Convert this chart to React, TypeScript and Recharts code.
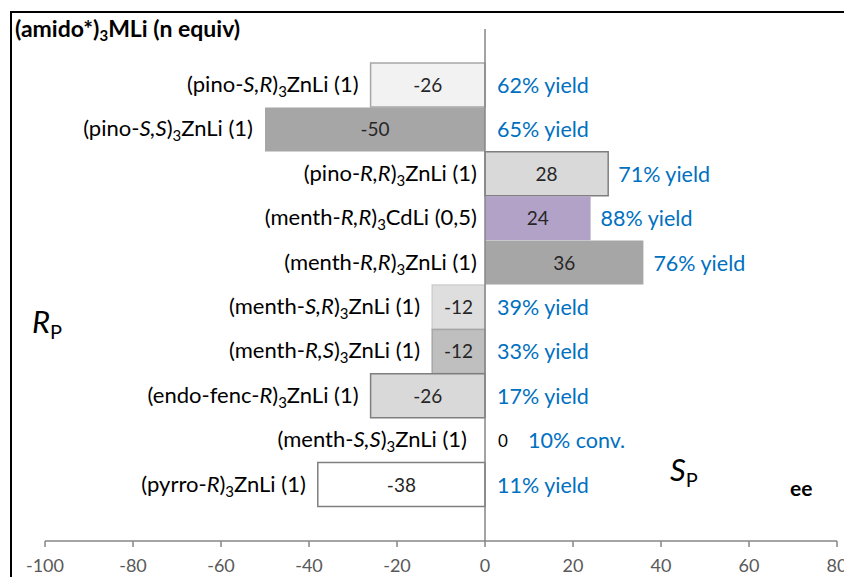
import React from "react";
import { BarChart, Bar, XAxis, YAxis, Cell, LabelList, ReferenceLine } from "recharts";

const categories = [
  "(pino-S,R)3ZnLi (1)",
  "(pino-S,S)3ZnLi (1)",
  "(pino-R,R)3ZnLi (1)",
  "(menth-R,R)3CdLi (0,5)",
  "(menth-R,R)3ZnLi (1)",
  "(menth-S,R)3ZnLi (1)",
  "(menth-R,S)3ZnLi (1)",
  "(endo-fenc-R)3ZnLi (1)",
  "(menth-S,S)3ZnLi (1)",
  "(pyrro-R)3ZnLi (1)",
];
const eeValues = [-26, -50, 28, 24, 36, -12, -12, -26, 0, -38];
const outcomes = [
  "62% yield",
  "65% yield",
  "71% yield",
  "88% yield",
  "76% yield",
  "39% yield",
  "33% yield",
  "17% yield",
  "10% conv.",
  "11% yield",
];
const xTicks = [-100, -80, -60, -40, -20, 0, 20, 40, 60, 80];

const barFills = ["#f2f2f2", "#a6a6a6", "#d9d9d9", "#b3a2c7", "#a6a6a6", "#dedede", "#bfbfbf", "#d9d9d9", "#ffffff", "#ffffff"];
const barStrokes = ["#a6a6a6", "none", "#7f7f7f", "none", "none", "#cfcfcf", "#a6a6a6", "#7f7f7f", "none", "#7f7f7f"];

const FONT = "Lato, 'Open Sans', sans-serif";
const BLUE = "#0070c0";

const data = categories.map((name, i) => ({ name, ee: eeValues[i], outcome: outcomes[i] }));

function splitName(name: string) {
  const m = name.match(/^\((.*-)(.+)\)3(.*)$/);
  return m ? [m[1], m[2], m[3]] : [name, "", ""];
}

// the zero bar is drawn with a 1px min size so its labels still get a slot;
// x is always the zero line, width is signed
const CategoryLabel = (props: any) => {
  const { x, y, width, height, value } = props;
  const i = categories.indexOf(value);
  const v = eeValues[i];
  const left = Math.min(x, x + width);
  const endX = v > 0 ? x - 8 : v === 0 ? x - 18 : left - 12;
  const [pre, ital, rest] = splitName(value);
  return (
    <text x={endX} y={y + height / 2 + 7} textAnchor="end" fontSize={22} fontFamily={FONT} fill="#000">
      <tspan>({pre}</tspan>
      <tspan fontStyle="italic">{ital}</tspan>
      <tspan>)</tspan>
      <tspan fontSize={15} dy={5}>3</tspan>
      <tspan dy={-5}>{rest}</tspan>
    </text>
  );
};

const ValueLabel = (props: any) => {
  const { x, y, width, height, value } = props;
  const cy = y + height / 2 + 7;
  if (value === 0) {
    return (
      <text x={x + 18} y={cy} textAnchor="middle" fontSize={17} fontFamily={FONT} fill="#000">
        {value}
      </text>
    );
  }
  return (
    <text x={x + width / 2} y={cy} textAnchor="middle" fontSize={19} fontFamily={FONT} fill="#262626">
      {value}
    </text>
  );
};

const OutcomeLabel = (props: any) => {
  const { x, y, width, height, value } = props;
  const v = eeValues[outcomes.indexOf(value)];
  const right = Math.max(x, x + width);
  const startX = v > 0 ? right + 10 : v === 0 ? x + 43 : x + 12;
  return (
    <text x={startX} y={y + height / 2 + 8} textAnchor="start" fontSize={21.5} fontFamily={FONT} fill={BLUE}>
      {value}
    </text>
  );
};

export default function App() {
  return (
    <div style={{ position: "absolute", left: 0, top: 0, width: 844, height: 577, overflow: "hidden", background: "#fff" }}>
      <BarChart
        width={844}
        height={577}
        data={data}
        layout="vertical"
        margin={{ top: 29, right: 7, bottom: 0, left: 45 }}
        barCategoryGap={0}
      >
        <XAxis
          type="number"
          domain={[-100, 80]}
          ticks={xTicks}
          interval={0}
          height={36}
          tickSize={6}
          tickMargin={12}
          axisLine={{ stroke: "#868686", strokeWidth: 1.5 }}
          tickLine={{ stroke: "#868686", strokeWidth: 1.5 }}
          tick={{ fill: "#595959", fontSize: 18, fontFamily: FONT }}
        />
        <YAxis type="category" dataKey="name" hide padding={{ top: 34, bottom: 34 }} />
        <Bar dataKey="ee" isAnimationActive={false} minPointSize={1}>
          {data.map((d, i) => (
            <Cell key={d.name} fill={barFills[i]} stroke={barStrokes[i]} strokeWidth={1.5} />
          ))}
          <LabelList dataKey="ee" content={ValueLabel} />
          <LabelList dataKey="name" content={CategoryLabel} />
          <LabelList dataKey="outcome" content={OutcomeLabel} />
        </Bar>
        <ReferenceLine x={0} stroke="#868686" strokeWidth={1.5} />
      </BarChart>
      <div
        style={{
          position: "absolute",
          left: 10,
          top: 11,
          width: 900,
          height: 700,
          border: "2.5px solid #000",
          pointerEvents: "none",
        }}
      />
      <div style={{ position: "absolute", left: 15, top: 14, fontFamily: FONT, fontWeight: 700, fontSize: 23, color: "#000" }}>
        (amido*)<sub style={{ fontSize: 15, verticalAlign: "-4px" }}>3</sub>MLi (n equiv)
      </div>
      <div style={{ position: "absolute", left: 32, top: 302, fontFamily: FONT, fontSize: 31, color: "#000" }}>
        <i>R</i>
        <sub style={{ fontSize: 20, verticalAlign: "-6px" }}>P</sub>
      </div>
      <div style={{ position: "absolute", left: 670, top: 450, fontFamily: FONT, fontSize: 31, color: "#000" }}>
        <i>S</i>
        <sub style={{ fontSize: 20, verticalAlign: "-6px" }}>P</sub>
      </div>
      <div style={{ position: "absolute", left: 790, top: 475, fontFamily: FONT, fontWeight: 700, fontSize: 21, color: "#000" }}>
        ee
      </div>
    </div>
  );
}
